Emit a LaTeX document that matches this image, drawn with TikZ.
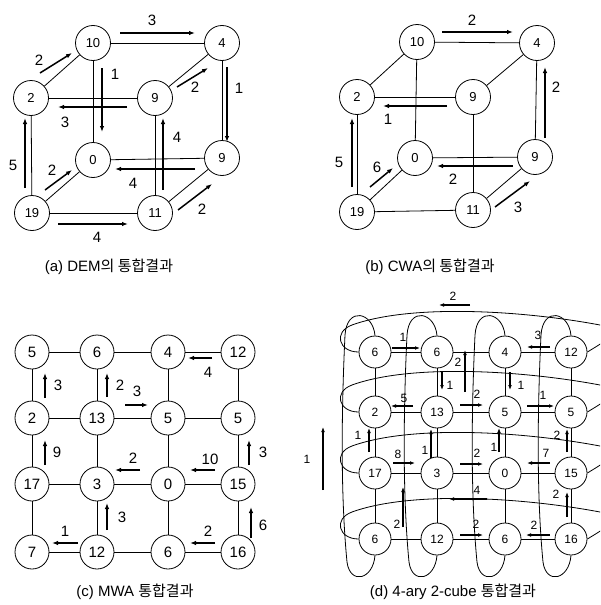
\documentclass[tikz,border=0pt]{standalone}
\usepackage{fontspec}
\setmainfont{Liberation Sans}
\newfontfamily\cjk{Noto Sans CJK KR}
\usetikzlibrary{arrows.meta}

\begin{document}
\begin{tikzpicture}[x=1pt,y=-1pt,
  nd/.style={circle,draw,fill=white,line width=0.8pt,minimum size=35pt,inner sep=0pt,font=\fontsize{13}{13}\selectfont},
  ndc/.style={nd,minimum size=34pt,font=\fontsize{15}{15}\selectfont},
  ndd/.style={nd,minimum size=32pt,font=\fontsize{12}{12}\selectfont},
  ed/.style={line width=0.8pt},
  flow/.style={line width=1.5pt,-{Latex[length=6pt,width=4.5pt]}},
  flowd/.style={line width=1.2pt,-{Latex[length=5pt,width=3.8pt]}},
  lab/.style={font=\fontsize{15}{15}\selectfont,inner sep=0pt},
  labd/.style={font=\fontsize{12}{12}\selectfont,inner sep=0pt},
  captext/.style={font=\fontsize{15}{15}\selectfont,inner sep=0pt},
  wrap/.style={line width=0.8pt}]

\fill[white] (0,0) rectangle (600,605);
\useasboundingbox (0,0) rectangle (600,605);

% ---------------- (a) DEM ----------------
\node[nd] (a10) at (93,43) {10};
\node[nd] (a4)  at (222,43) {4};
\node[nd] (a2)  at (31,98) {2};
\node[nd] (a9f) at (155,98) {9};
\node[nd] (a0)  at (93,160) {0};
\node[nd] (a9b) at (222,158) {9};
\node[nd] (a19) at (32,213) {19};
\node[nd] (a11) at (155,213) {11};
\foreach \u/\v in {a10/a4,a10/a2,a10/a0,a4/a9f,a4/a9b,a2/a9f,a2/a19,a9f/a11,a19/a11,a19/a0,a0/a9b,a11/a9b}
  \draw[ed] (\u) -- (\v);
\draw[flow] (120,33) -- (195,33);  \node[lab] (la1) at (152,20) {3};
\draw[flow] (40,73) -- (72,53);    \node[lab] (la2) at (39,60) {2};
\draw[flow] (102,68) -- (102,132); \node[lab] (la3) at (115,74) {1};
\draw[flow] (127,107) -- (58,107); \node[lab] (la4) at (65,122) {3};
\draw[flow] (177,87) -- (208,68);  \node[lab] (la5) at (195,87) {2};
\draw[flow] (227,67) -- (227,142); \node[lab] (la6) at (239,88) {1};
\draw[flow] (163,190) -- (163,118);\node[lab] (la7) at (177,137) {4};
\draw[flow] (25,188) -- (25,118);  \node[lab] (la8) at (13,165) {5};
\draw[flow] (45,190) -- (72,170);  \node[lab] (la9) at (52,170) {2};
\draw[flow] (195,169) -- (115,169);\node[lab] (la10) at (133,183) {4};
\draw[flow] (58,224) -- (128,224); \node[lab] (la11) at (97,237) {4};
\draw[flow] (178,210) -- (212,184);\node[lab] (la12) at (202,209) {2};
\node[captext] (capa) at (109,267) {(a) DEM{\cjk 의 통합결과}};

% ---------------- (b) CWA ----------------
\node[nd] (b10) at (417,42) {10};
\node[nd] (b4)  at (537,43) {4};
\node[nd] (b2)  at (357,97) {2};
\node[nd] (b9f) at (473,97) {9};
\node[nd] (b0)  at (415,158) {0};
\node[nd] (b9b) at (535,157) {9};
\node[nd] (b19) at (357,212) {19};
\node[nd] (b11) at (473,210) {11};
\foreach \u/\v in {b10/b4,b10/b2,b10/b0,b4/b9f,b4/b9b,b2/b9f,b2/b19,b9f/b11,b19/b11,b19/b0,b0/b9b,b11/b9b}
  \draw[ed] (\u) -- (\v);
\draw[flow] (442,32) -- (513,32);  \node[lab] (lb1) at (472,20) {2};
\draw[flow] (447,106) -- (383,106);\node[lab] (lb2) at (388,119) {1};
\draw[flow] (545,138) -- (545,67); \node[lab] (lb3) at (556,87) {2};
\draw[flow] (352,187) -- (352,118);\node[lab] (lb4) at (339,162) {5};
\draw[flow] (370,187) -- (393,168);\node[lab] (lb5) at (377,167) {6};
\draw[flow] (513,166) -- (437,166);\node[lab] (lb6) at (453,179) {2};
\draw[flow] (495,207) -- (530,181);\node[lab] (lb7) at (518,207) {3};
\node[captext] (capb) at (430,267) {(b) CWA{\cjk 의 통합결과}};

% ---------------- (c) MWA ----------------
\node[ndc] (c11) at (32,352) {5};
\node[ndc] (c12) at (97,352) {6};
\node[ndc] (c13) at (168,352) {4};
\node[ndc] (c14) at (238,352) {12};
\node[ndc] (c21) at (32,418) {2};
\node[ndc] (c22) at (97,418) {13};
\node[ndc] (c23) at (168,418) {5};
\node[ndc] (c24) at (238,418) {5};
\node[ndc] (c31) at (32,484) {17};
\node[ndc] (c32) at (97,484) {3};
\node[ndc] (c33) at (168,484) {0};
\node[ndc] (c34) at (238,484) {15};
\node[ndc] (c41) at (32,552) {7};
\node[ndc] (c42) at (97,552) {12};
\node[ndc] (c43) at (168,552) {6};
\node[ndc] (c44) at (238,552) {16};
\foreach \r in {1,...,4}
  \foreach \c/\n in {1/2,2/3,3/4} {
    \draw[ed] (c\r\c) -- (c\r\n);
    \draw[ed] (c\c\r) -- (c\n\r);
  }
\draw[flow] (45,398) -- (45,373);  \node[lab] (lc1) at (58,385) {3};
\draw[flow] (107,397) -- (107,373);\node[lab] (lc2) at (120,385) {2};
\draw[flow] (125,405) -- (148,405);\node[lab] (lc3) at (137,391) {3};
\draw[flow] (212,358) -- (188,358);\node[lab] (lc4) at (208,372) {4};
\draw[flow] (45,465) -- (45,440);  \node[lab] (lc5) at (57,452) {9};
\draw[flow] (140,470) -- (115,470);\node[lab] (lc6) at (133,458) {2};
\draw[flow] (215,470) -- (190,470);\node[lab] (lc7) at (210,459) {10};
\draw[flow] (249,465) -- (249,440);\node[lab] (lc8) at (263,452) {3};
\draw[flow] (107,530) -- (107,503);\node[lab] (lc9) at (122,517) {3};
\draw[flow] (251,538) -- (251,507);\node[lab] (lc10) at (263,525) {6};
\draw[flow] (78,543) -- (52,543);  \node[lab] (lc11) at (65,531) {1};
\draw[flow] (215,543) -- (190,543);\node[lab] (lc12) at (208,531) {2};
\node[captext] (capc) at (135,592) {(c) MWA {\cjk 통합결과}};

% ---------------- (d) 4-ary 2-cube ----------------
\node[ndd] (d11) at (375,352) {6};
\node[ndd] (d12) at (437,352) {6};
\node[ndd] (d13) at (505,352) {4};
\node[ndd] (d14) at (571,352) {12};
\node[ndd] (d21) at (375,412) {2};
\node[ndd] (d22) at (437,412) {13};
\node[ndd] (d23) at (505,412) {5};
\node[ndd] (d24) at (571,412) {5};
\node[ndd] (d31) at (375,473) {17};
\node[ndd] (d32) at (437,473) {3};
\node[ndd] (d33) at (505,473) {0};
\node[ndd] (d34) at (571,473) {15};
\node[ndd] (d41) at (375,539) {6};
\node[ndd] (d42) at (437,539) {12};
\node[ndd] (d43) at (505,539) {6};
\node[ndd] (d44) at (571,539) {16};
\foreach \r in {1,...,4}
  \foreach \c/\n in {1/2,2/3,3/4} {
    \draw[ed] (d\r\c) -- (d\r\n);
    \draw[ed] (d\c\r) -- (d\n\r);
  }
% wrap-around links of the torus
\begin{scope}
\clip (0,0) rectangle (600,605);
\foreach \r/\y in {1/352,2/412,3/473,4/539}
  \draw[wrap] (d\r1.west) .. controls +(-20,0) and (333,\y-20) .. (352,\y-27)
    .. controls (410,\y-48) and (520,\y-42) .. (600,\y-27)
    .. controls (625,\y-22) and (607,\y-12) .. (d\r4.east);
\foreach \c/\x in {1/375,2/437,3/505,4/571}
  \draw[wrap] (d1\c.north) .. controls (\x-2,312) and (\x-28,306) .. (\x-30,335)
    .. controls (\x-34,420) and (\x-34,500) .. (\x-28,562)
    .. controls (\x-25,585) and (\x-2,580) .. (d4\c.south);
\end{scope}
\draw[flowd] (392,348) -- (420,348); \node[labd] (ld1) at (403,337) {1};
\draw[flowd] (550,347) -- (527,347); \node[labd] (ld2) at (538,335) {3};
\draw[flowd] (470,305) -- (439,305); \node[labd] (ld3) at (453,296) {2};
\draw[flowd] (465,392) -- (465,350); \node[labd] (ld4) at (458,362) {2};
\draw[flowd] (442,372) -- (442,390); \node[labd] (ld5) at (450,385) {1};
\draw[flowd] (510,372) -- (510,390); \node[labd] (ld6) at (521,385) {1};
\draw[flowd] (413,406) -- (391,406); \node[labd] (ld7) at (404,398) {5};
\draw[flowd] (460,405) -- (483,405); \node[labd] (ld8) at (477,394) {2};
\draw[flowd] (527,406) -- (554,406); \node[labd] (ld9) at (543,395) {1};
\draw[flowd] (369,452) -- (369,428); \node[labd] (ld10) at (358,435) {1};
\draw[flowd] (431,458) -- (431,429); \node[labd] (ld11) at (425,450) {1};
\draw[flowd] (499,452) -- (499,428); \node[labd] (ld12) at (494,447) {1};
\draw[flowd] (567,452) -- (567,429); \node[labd] (ld13) at (557,435) {2};
\draw[flowd] (393,463) -- (415,463); \node[labd] (ld14) at (398,454) {8};
\draw[flowd] (460,464) -- (483,464); \node[labd] (ld15) at (477,453) {2};
\draw[flowd] (550,463) -- (527,463); \node[labd] (ld16) at (546,453) {7};
\draw[flowd] (487,499) -- (449,499); \node[labd] (ld17) at (477,490) {4};
\draw[flowd] (403,527) -- (403,487); \node[labd] (ld18) at (397,524) {2};
\draw[flowd] (567,517) -- (567,492); \node[labd] (ld19) at (556,494) {2};
\draw[flowd] (460,535) -- (483,535); \node[labd] (ld20) at (476,524) {2};
\draw[flowd] (550,535) -- (526,535); \node[labd] (ld21) at (534,525) {2};
\draw[flowd] (323,490) -- (323,427); \node[labd] (ld22) at (307,459) {1};
\node[captext] (capd) at (453,592) {(d) 4-ary 2-cube {\cjk 통합결과}};
\end{tikzpicture}
\end{document}
